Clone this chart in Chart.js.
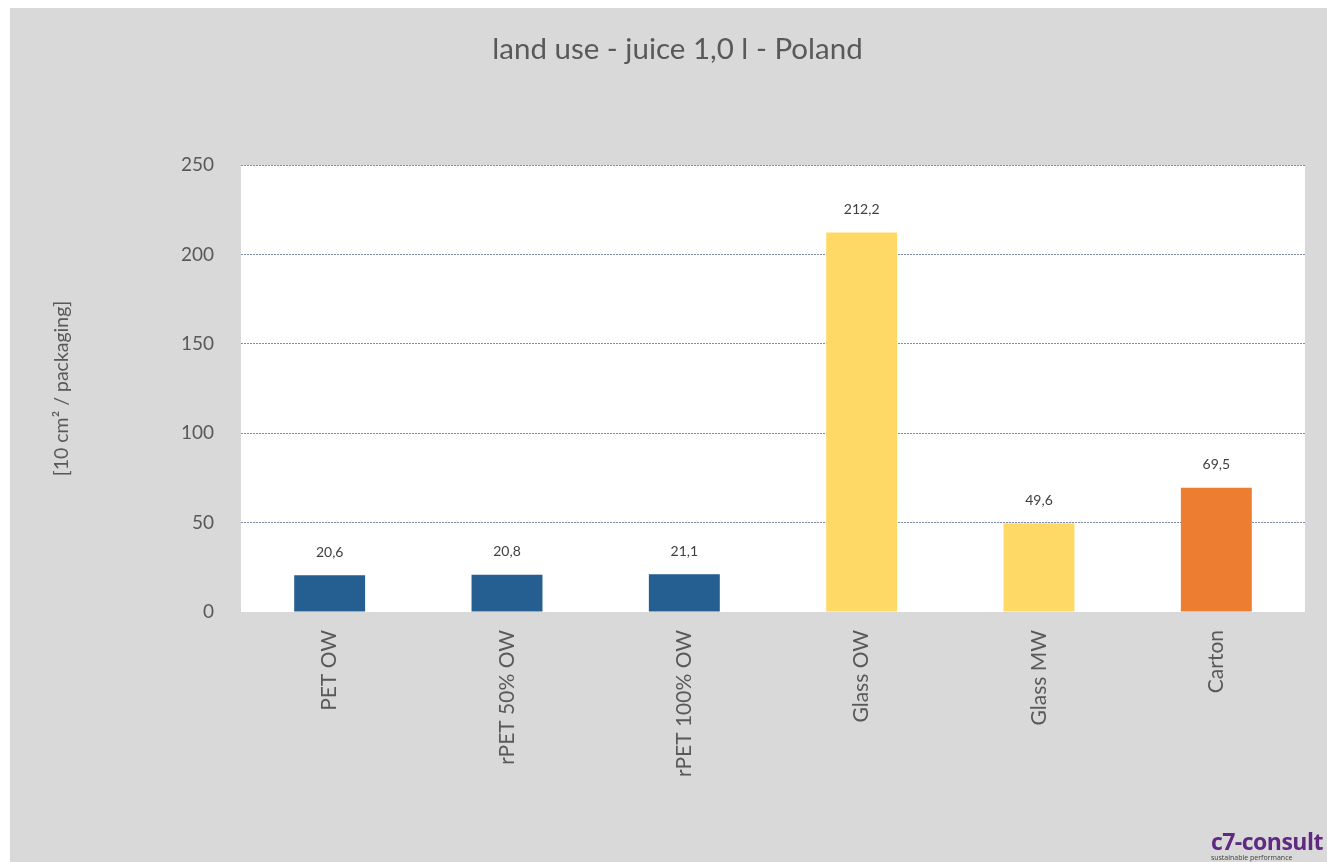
<!DOCTYPE html>
<html>
<head>
<meta charset="utf-8">
<script src="https://cdn.jsdelivr.net/npm/chart.js@4.4.1/dist/chart.umd.min.js"></script>
<style>
  body { margin: 0; background: #ffffff; }
  #frame { position: absolute; left: 10px; top: 8px; width: 1317px; height: 854px; background: #d9d9d9; }
  #logo { position: absolute; right: 4px; bottom: 0px; font-family: "Open Sans", sans-serif; color: #5f2a80; }
  #logo .big { font-size: 23px; font-weight: bold; line-height: 24px; letter-spacing: -0.5px; }
  #logo .small { font-size: 7px; color: #404040; line-height: 9px; }
</style>
</head>
<body>
<div id="frame">
  <canvas id="myChart" width="1317" height="854"></canvas>
  <div id="logo"><div class="big">c7-consult</div><div class="small">sustainable performance</div></div>
</div>
<script>
 /* land use - juice 1,0 l - Poland */
 const labels = ["PET OW", "rPET 50% OW", "rPET 100% OW", "Glass OW", "Glass MW", "Carton"];
 const values = [20.6, 20.8, 21.1, 212.2, 49.6, 69.5];
 const colors = ["#255e91", "#255e91", "#255e91", "#ffd966", "#ffd966", "#ed7d31"];
 const yTicks = [0, 50, 100, 150, 200, 250];

 const FONT = "Lato";

 // fundo branco da área do gráfico
 const plotBg = {
   id: "plotBg",
   beforeDraw(chart) {
     const a = chart.chartArea;
     const ctx = chart.ctx;
     ctx.save();
     ctx.fillStyle = "#ffffff";
     ctx.fillRect(a.left, a.top, a.right - a.left, a.bottom - a.top);
     ctx.restore();
   }
 };

 // rótulos dos valores acima das barras
 const valueLabels = {
   id: "valueLabels",
   afterDatasetsDraw(chart) {
     const ctx = chart.ctx;
     const meta = chart.getDatasetMeta(0);
     ctx.save();
     ctx.font = "14px " + FONT;
     ctx.fillStyle = "#404040";
     ctx.textAlign = "center";
     ctx.textBaseline = "middle";
     meta.data.forEach((bar, i) => {
       const txt = values[i].toFixed(1).replace(".", ",");
       ctx.fillText(txt, bar.x, bar.y - 23);
     });
     ctx.restore();
   }
 };

 const config = {
   type: "bar",
   data: {
     labels: labels,
     datasets: [{
       data: values,
       backgroundColor: colors,
       borderWidth: 0,
       categoryPercentage: 1,
       barPercentage: 0.4
     }]
   },
   options: {
     responsive: false,
     animation: false,
     layout: { padding: { left: 40, right: 22, top: 0, bottom: 0 } },
     plugins: {
       legend: { display: false },
       tooltip: { enabled: false },
       title: {
         display: true,
         text: "land use - juice 1,0 l - Poland",
         color: "#595959",
         font: { family: FONT, size: 29.5, weight: "normal" },
         padding: { top: 24, bottom: 97.6 }
       }
     },
     scales: {
       x: {
         grid: { display: false, drawTicks: false },
         border: { display: true, color: "#d9d9d9", width: 1 },
         ticks: {
           color: "#595959",
           font: { family: FONT, size: 21 },
           minRotation: 90,
           maxRotation: 90,
           padding: 18
         },
         afterFit(scale) { scale.height = 854 - 604; }
       },
       y: {
         min: 0,
         max: 250,
         afterBuildTicks(scale) { scale.ticks = yTicks.map(v => ({ value: v })); },
         grid: {
           drawTicks: false,
           color: ctx => ctx.tick && ctx.tick.value === 0 ? "rgba(0,0,0,0)" : "#7d8ca3",
           lineWidth: 1
         },
         border: { display: false, dash: [2, 1] },
         ticks: {
           color: "#595959",
           font: { family: FONT, size: 19 },
           padding: 27
         },
         title: {
           display: true,
           text: "[10 cm² / packaging]",
           color: "#595959",
           font: { family: FONT, size: 19.5 },
           padding: { top: 0, bottom: 0 }
         },
         afterFit(scale) { scale.width = 191; }
       }
     }
   },
   plugins: [plotBg, valueLabels]
 };

 const myChart = new Chart(document.getElementById("myChart"), config);
</script>
</body>
</html>
